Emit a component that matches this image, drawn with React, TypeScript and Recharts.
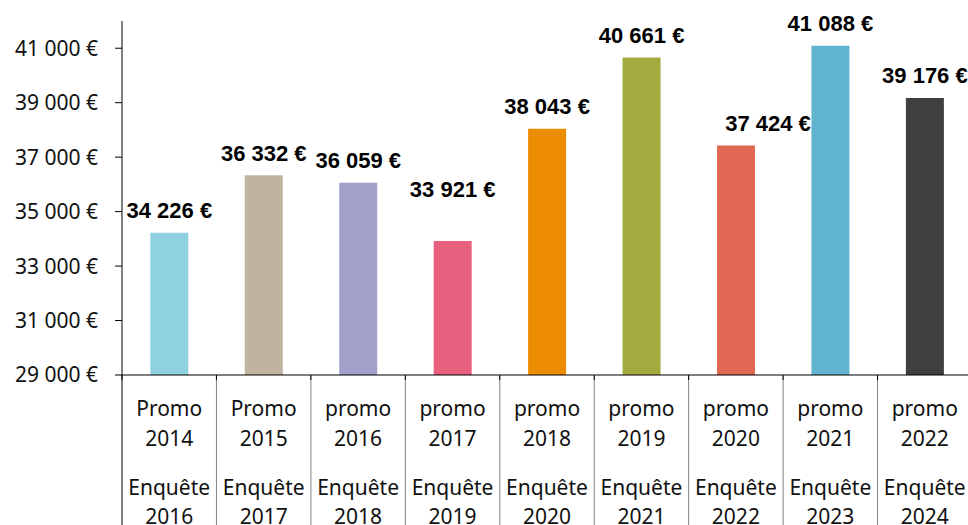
import { BarChart, Bar, XAxis, YAxis, Cell, LabelList } from 'recharts'

const PROMOS = ['Promo', 'Promo', 'promo', 'promo', 'promo', 'promo', 'promo', 'promo', 'promo']
const PROMO_YEARS = ['2014', '2015', '2016', '2017', '2018', '2019', '2020', '2021', '2022']
const SURVEY_YEARS = ['2016', '2017', '2018', '2019', '2020', '2021', '2022', '2023', '2024']
const SALARIES = [34226, 36332, 36059, 33921, 38043, 40661, 37424, 41088, 39176]
const Y_TICKS = [29000, 31000, 33000, 35000, 37000, 39000, 41000]

const COLORS = ['#8fd1df', '#c0b4a0', '#a1a0c9', '#e8607d', '#ec8c00', '#a3aa3f', '#e26855', '#60b4cf', '#3f3f41']

// small nudges the original applied to two labels
const LABEL_NUDGE: Record<number, [number, number]> = { 3: [0, -29], 6: [32, 0] }

const data = PROMO_YEARS.map((year, i) => ({
  name: `${PROMOS[i]} ${year}`,
  promo: PROMOS[i],
  year,
  survey: SURVEY_YEARS[i],
  value: SALARIES[i]
}))

const CHART_W = 980
const CHART_H = 560
const Y_AXIS_W = 122
const MARGIN = { top: 21, right: 8, left: 0, bottom: 0 }
const BAND = (CHART_W - MARGIN.left - MARGIN.right - Y_AXIS_W) / data.length

const euro = (v: number) => `${Math.floor(v / 1000)} ${String(v % 1000).padStart(3, '0')} €`

const AXIS_FONT = '"Noto Sans", sans-serif'

function CategoryTick(props: any) {
  const { x, y, index } = props
  const d = data[index]
  const left = x - BAND / 2
  const right = x + BAND / 2
  const textProps = { x, textAnchor: 'middle' as const, fontSize: 21, fontFamily: AXIS_FONT, fill: '#111' }
  return (
    <g>
      <line x1={left} x2={left} y1={y} y2={y + 200} stroke={index === 0 ? '#000' : '#808080'} />
      <line x1={left} x2={left} y1={y} y2={y + 5} stroke="#000" />
      {index === data.length - 1 && <line x1={right} x2={right} y1={y} y2={y + 200} stroke="#808080" />}
      <text {...textProps} y={y + 41}>{d.promo}</text>
      <text {...textProps} y={y + 71}>{d.year}</text>
      <text {...textProps} y={y + 120}>Enquête</text>
      <text {...textProps} y={y + 149}>{d.survey}</text>
    </g>
  )
}

function ValueLabel(props: any) {
  const { x, y, width, value, index } = props
  const [dx, dy] = LABEL_NUDGE[index] || [0, 0]
  return (
    <text
      x={x + width / 2 + dx}
      y={y - 14.5 + dy}
      textAnchor="middle"
      fontSize={22}
      fontWeight="bold"
      fontFamily='"Liberation Sans", Arial, sans-serif'
      fill="#000"
    >
      {euro(value)}
    </text>
  )
}

export default function App() {
  return (
    <div style={{ position: 'absolute', left: 0, top: 0, width: 968, height: 525, overflow: 'hidden', background: '#fff' }}>
      <BarChart width={CHART_W} height={CHART_H} data={data} margin={MARGIN} barCategoryGap="30%">
        <XAxis
          dataKey="name"
          height={CHART_H - 375}
          axisLine={{ stroke: '#000' }}
          tickLine={false}
          tickSize={0}
          tickMargin={0}
          interval={0}
          tick={<CategoryTick />}
        />
        <YAxis
          width={Y_AXIS_W}
          domain={[29000, 42000]}
          ticks={Y_TICKS}
          allowDataOverflow
          axisLine={{ stroke: '#000' }}
          tickLine={{ stroke: '#000' }}
          tickSize={7}
          tickMargin={17}
          tickFormatter={euro}
          tick={{ fill: '#111', fontSize: 21, fontFamily: AXIS_FONT }}
        />
        <Bar dataKey="value" isAnimationActive={false}>
          {data.map((d, i) => (
            <Cell key={d.name} fill={COLORS[i]} />
          ))}
          <LabelList dataKey="value" content={<ValueLabel />} />
        </Bar>
      </BarChart>
    </div>
  )
}
